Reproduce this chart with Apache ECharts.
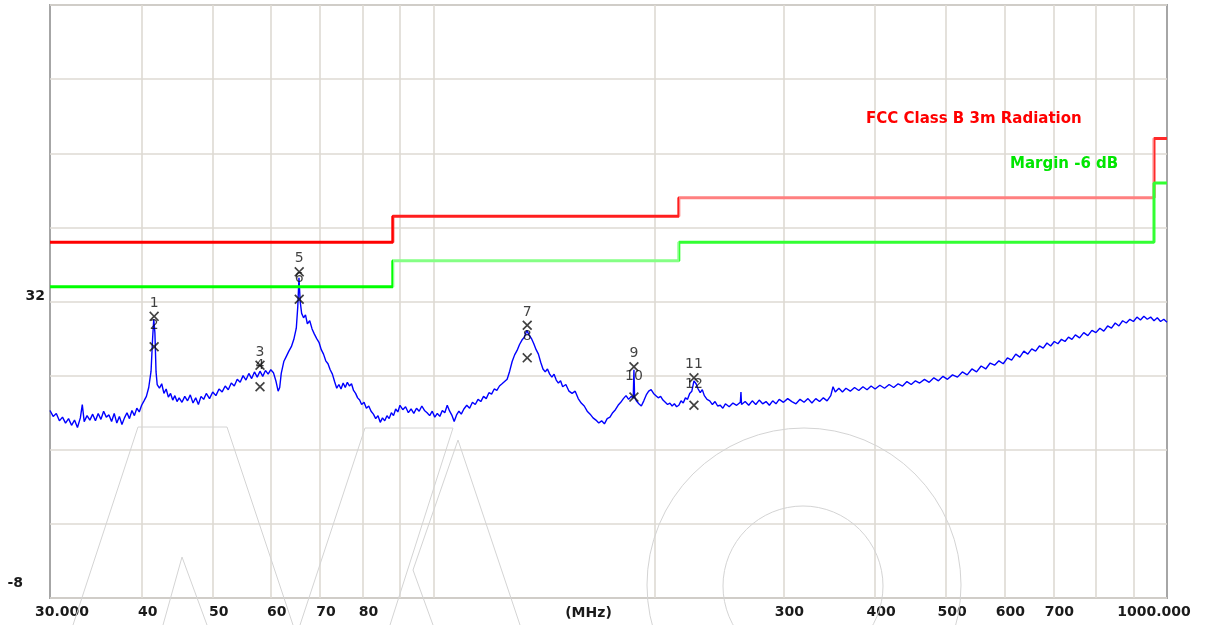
<!DOCTYPE html>
<html><head><meta charset="utf-8">
<script src="https://cdn.jsdelivr.net/npm/echarts@6.0.0/dist/echarts.min.js"></script>
<style>html,body{margin:0;padding:0;background:#fff}#c{width:1205px;height:625px}</style>
</head><body><div id="c"></div>
<script>
// ---- axes ----
const freqGridTicks = [40, 50, 60, 70, 80, 90, 100, 200, 300, 400, 500, 600, 700, 800, 900];
const freqTickLabels = [30, 40, 50, 60, 70, 80, 300, 400, 500, 600, 700, 1000];
const levelGridTicks = [-8, 2, 12, 22, 32, 42, 52, 62, 72];
const levelTickLabels = [-8, 32];

// ---- limit lines (FCC Class B 3m) ----
const limitEdges = [30, 88, 216, 960, 1000];
const limitLevels = [40, 43.5, 46, 54, 54];
const marginLevels = [34, 37.5, 40, 48, 48];

// ---- measured trace ----
const traceFreq = [30.0,30.3,30.6,30.9,31.2,31.5,31.8,32.1,32.4,32.7,33.0,33.2,33.4,33.7,34.0,34.3,34.6,34.9,35.2,35.5,35.8,36.1,36.4,36.7,37.0,37.3,37.6,37.9,38.2,38.5,38.8,39.1,39.4,39.7,40.0,40.3,40.6,40.9,41.2,41.4,41.55,41.7,41.85,42.0,42.3,42.6,42.9,43.2,43.5,43.8,44.1,44.4,44.7,45.0,45.4,45.8,46.2,46.6,47.0,47.4,47.8,48.2,48.6,49.0,49.5,50.0,50.5,51.0,51.5,52.0,52.5,53.0,53.5,54.0,54.5,55.0,55.5,56.0,56.5,57.0,57.5,58.0,58.5,59.0,59.5,60.0,60.5,61.0,61.4,61.7,62.0,62.5,63.0,63.5,64.0,64.5,65.0,65.3,65.55,65.8,66.1,66.5,66.9,67.3,67.8,68.3,68.8,69.3,69.8,70.3,70.8,71.3,71.8,72.3,72.8,73.3,73.8,74.3,74.8,75.3,75.8,76.3,76.8,77.3,77.8,78.3,78.8,79.3,79.8,80.4,81.0,81.6,82.2,82.8,83.4,84.0,84.6,85.2,85.8,86.4,87.0,87.6,88.2,88.8,89.4,90.0,90.8,91.6,92.4,93.2,94.0,94.8,95.6,96.4,97.2,98.0,98.8,99.6,100.4,101.2,102.0,102.8,103.6,104.4,105.2,106.0,106.7,107.5,108.3,109.1,110.0,111.0,112.0,113.0,114.0,115.0,116.0,117.0,118.0,119.0,120.0,121.0,122.0,123.0,124.0,125.0,126.0,127.0,128.0,129.0,130.0,131.0,132.0,133.0,134.0,135.0,136.0,137.0,138.0,139.0,140.0,141.0,142.0,143.0,144.0,145.0,146.0,147.0,148.0,149.0,150.0,151.5,153.0,154.5,156.0,157.5,159.0,160.5,162.0,163.5,165.0,166.5,168.0,169.5,171.0,172.5,174.0,175.5,177.0,178.5,180.0,181.5,183.0,184.5,186.0,187.2,187.6,188.0,189.0,190.5,192.0,193.5,195.0,196.5,198.0,199.5,201.0,202.5,204.0,205.5,207.0,208.5,210.0,211.5,213.0,214.5,216.0,217.5,219.0,220.5,222.0,223.5,225.0,226.5,228.0,229.5,231.0,232.5,234.0,236.0,238.0,240.0,242.0,244.0,246.0,248.0,250.0,253.0,256.0,259.0,262.0,262.5,263.0,266.0,269.0,272.0,275.0,278.0,281.0,284.0,287.0,290.0,293.0,296.0,300.0,304.0,308.0,312.0,316.0,320.0,324.0,328.0,332.0,336.0,340.0,344.0,348.0,350.5,353.0,357.0,361.0,365.0,370.0,375.0,380.0,385.0,390.0,395.0,400.0,406.0,412.0,418.0,424.0,430.0,436.0,442.0,448.0,454.0,460.0,467.0,474.0,481.0,488.0,495.0,502.0,510.0,518.0,526.0,534.0,542.0,550.0,558.0,566.0,574.0,582.0,590.0,598.0,606.0,614.0,622.0,630.0,638.0,646.0,654.0,662.0,670.0,678.0,686.0,694.0,702.0,710.0,718.0,726.0,734.0,742.0,750.0,760.0,770.0,780.0,790.0,800.0,810.0,820.0,830.0,840.0,850.0,860.0,870.0,880.0,890.0,900.0,910.0,920.0,930.0,940.0,950.0,960.0,970.0,980.0,990.0,1000.0];
const traceLevel = [17.3,16.5,16.9,15.9,16.4,15.6,16.2,15.3,16.0,15.0,16.3,18.1,15.8,16.6,16.0,16.8,15.9,16.9,16.1,17.2,16.4,16.7,15.8,16.9,15.6,16.5,15.4,16.3,17.0,16.2,17.3,16.6,17.6,17.1,18.0,18.6,19.2,20.4,22.6,27.0,29.6,27.8,22.5,20.8,20.3,20.9,19.6,20.2,19.1,19.6,18.7,19.3,18.5,19.0,18.4,19.2,18.6,19.4,18.3,19.0,18.1,19.2,18.8,19.6,18.9,19.8,19.3,20.2,19.8,20.6,20.1,21.0,20.6,21.5,21.1,22.0,21.4,22.3,21.6,22.5,21.8,22.6,21.9,22.7,22.2,22.8,22.4,21.2,19.9,20.4,22.3,23.9,24.6,25.3,25.9,26.9,28.4,31.3,35.2,32.0,30.4,29.8,30.2,29.0,29.4,28.3,27.6,27.0,26.5,25.5,24.9,24.0,23.6,22.8,22.2,21.2,20.3,20.8,20.2,21.0,20.4,21.1,20.6,20.9,20.0,19.6,19.0,18.7,18.1,18.4,17.6,17.9,17.2,16.8,16.2,16.6,15.7,16.3,15.9,16.6,16.2,17.0,16.6,17.5,17.1,18.0,17.4,17.8,17.0,17.5,16.9,17.6,17.2,17.9,17.3,17.0,16.6,17.2,16.4,16.9,16.5,17.3,17.0,18.0,17.2,16.6,15.8,16.7,17.2,16.8,17.5,18.0,17.6,18.4,18.1,18.8,18.5,19.2,18.9,19.7,19.5,20.2,20.0,20.6,20.9,21.2,21.5,22.6,23.9,24.8,25.4,26.2,26.8,27.2,28.1,27.5,27.0,26.3,25.5,24.9,23.8,22.9,22.5,22.9,22.2,21.8,22.2,21.4,21.0,21.3,20.5,20.8,19.9,19.6,19.9,18.9,18.3,17.9,17.2,16.8,16.3,16.0,15.6,15.9,15.5,16.2,16.4,17.0,17.4,18.0,18.4,18.9,19.3,18.8,19.2,19.0,22.8,19.1,18.6,18.2,17.9,18.6,19.4,19.9,20.1,19.6,19.3,19.0,19.2,18.7,18.4,18.1,18.3,17.9,18.2,17.8,18.0,18.6,18.3,19.0,18.8,19.6,19.9,21.3,20.9,20.2,19.7,20.1,19.3,18.8,18.6,18.1,18.5,17.9,18.0,17.6,18.2,17.8,18.3,18.0,18.4,19.8,18.1,18.5,18.0,18.6,18.1,18.7,18.2,18.5,18.0,18.6,18.2,18.8,18.4,18.9,18.5,18.2,18.8,18.4,18.9,18.3,18.9,18.5,19.0,18.6,19.3,20.5,19.8,20.3,19.8,20.3,19.9,20.4,20.0,20.5,20.1,20.6,20.2,20.7,20.3,20.8,20.4,20.9,20.6,21.2,20.8,21.3,21.0,21.5,21.1,21.7,21.3,21.9,21.5,22.1,21.8,22.5,22.1,22.9,22.5,23.3,22.9,23.7,23.4,24.0,23.6,24.4,24.1,24.9,24.5,25.3,24.9,25.6,25.3,26.0,25.7,26.4,26.0,26.6,26.3,26.9,26.6,27.2,26.9,27.5,27.1,27.8,27.4,28.1,27.8,28.4,28.0,28.7,28.4,29.1,28.7,29.4,29.1,29.6,29.3,29.9,29.5,30.0,29.6,29.9,29.4,29.8,29.3,29.6,29.2];

// ---- markers ----
const markerNames = ['1','2','3','4','5','6','7','8','9','10','11','12'];
const markerFreq = [41.6, 41.6, 58.0, 58.0, 65.6, 65.6, 134.2, 134.2, 187.6, 187.6, 226.5, 226.5];
const markerLevel = [30.0, 25.9, 23.4, 20.5, 36.0, 32.3, 28.8, 24.4, 23.2, 19.1, 21.7, 18.0];

const lg = Math.log10;
const FONT = '"DejaVu Sans", sans-serif';
const gridColor = '#dedad3';
const wm = '#d4d4d4';

const chart = echarts.init(document.getElementById('c'), null, {renderer: 'canvas'});

const xLabelFmt = function (v) {
  const f = Math.round(Math.pow(10, v));
  if (f === 30) return '{l|30.000}';
  if (f === 1000) return '{r|1000.000}';
  return '{n|' + f + '}';
};
const yLabelFmt = function (v) {
  return Math.round(v) === -8 ? '{b|-8}' : '{a|' + Math.round(v) + '}';
};

const stepData = (levels) => limitEdges.map((f, i) => [lg(f), levels[i]]);

const option = {
  backgroundColor: '#ffffff',
  animation: false,
  grid: {left: 50, top: 5, right: 38, bottom: 27, containLabel: false, outerBoundsMode: 'none',
         show: true, borderColor: '#a6a6a6', borderWidth: 2, backgroundColor: 'transparent'},
  xAxis: {
    type: 'value', min: lg(30), max: lg(1000),
    name: '(MHz)', nameLocation: 'middle', nameGap: 8, nameMoveOverlap: false,
    nameTextStyle: {fontFamily: FONT, fontWeight: 'bold', fontSize: 14, color: '#1a1a1a', padding: [0, 40, 0, 0], verticalAlign: 'top'},
    axisLine: {show: false},
    axisTick: {show: false, customValues: freqGridTicks.map(lg)},
    axisLabel: {
      customValues: freqTickLabels.map(lg), formatter: xLabelFmt, margin: 7,
      fontFamily: FONT, fontWeight: 'bold', fontSize: 14, color: '#1a1a1a',
      rich: {
        n: {fontFamily: FONT, fontWeight: 'bold', fontSize: 14, color: '#1a1a1a', padding: [0, 0, 0, 12]},
        l: {fontFamily: FONT, fontWeight: 'bold', fontSize: 14, color: '#1a1a1a', padding: [0, 0, 0, 24]},
        r: {fontFamily: FONT, fontWeight: 'bold', fontSize: 14, color: '#1a1a1a', padding: [0, 26, 0, 0]}
      }
    },
    splitLine: {show: true, lineStyle: {color: gridColor, width: 1.6}}
  },
  yAxis: {
    type: 'value', min: -8, max: 72,
    axisLine: {show: false},
    axisTick: {show: false, customValues: levelGridTicks},
    axisLabel: {
      customValues: levelTickLabels, formatter: yLabelFmt, margin: 5, verticalAlign: 'middle',
      fontFamily: FONT, fontWeight: 'bold', fontSize: 14, color: '#1a1a1a',
      rich: {
        a: {fontFamily: FONT, fontWeight: 'bold', fontSize: 14, color: '#1a1a1a', padding: [0, 0, 10, 0]},
        b: {fontFamily: FONT, fontWeight: 'bold', fontSize: 14, color: '#1a1a1a', padding: [0, 22, 30, 0]}
      }
    },
    splitLine: {show: true, lineStyle: {color: gridColor, width: 1.6}}
  },
  visualMap: [
    {type: 'piecewise', show: false, dimension: 0, seriesIndex: 1, pieces: [
      {lt: lg(88), color: '#ff0000'},
      {gte: lg(88), lt: lg(216), color: '#ff1e1e'},
      {gte: lg(216), lt: lg(959), color: '#ff8080'},
      {gte: lg(959), color: '#ff2a2a'}
    ]},
    {type: 'piecewise', show: false, dimension: 0, seriesIndex: 2, pieces: [
      {lt: lg(88), color: '#00ff00'},
      {gte: lg(88), lt: lg(216), color: '#85ff85'},
      {gte: lg(216), lt: lg(959), color: '#33ff33'},
      {gte: lg(959), color: '#33ff33'}
    ]}
  ],
  graphic: [
    {type: 'polyline', silent: true, z: 1, shape: {points: [[73, 625], [138, 427], [227, 427], [293, 625]]}, style: {stroke: wm, fill: 'none', lineWidth: 1}},
    {type: 'polyline', silent: true, z: 1, shape: {points: [[163, 625], [182, 557], [207, 625]]}, style: {stroke: wm, fill: 'none', lineWidth: 1}},
    {type: 'polyline', silent: true, z: 1, shape: {points: [[300, 625], [365, 428], [453, 428], [390, 625]]}, style: {stroke: wm, fill: 'none', lineWidth: 1}},
    {type: 'polyline', silent: true, z: 1, shape: {points: [[520, 625], [458, 440], [413, 570], [433, 625]]}, style: {stroke: wm, fill: 'none', lineWidth: 1}},
    {type: 'circle', silent: true, z: 1, shape: {cx: 804, cy: 585, r: 157}, style: {stroke: wm, fill: 'none', lineWidth: 1}},
    {type: 'circle', silent: true, z: 1, shape: {cx: 803, cy: 586, r: 80}, style: {stroke: wm, fill: 'none', lineWidth: 1}},
    {type: 'text', z: 10, x: 866, y: 119, style: {text: 'FCC Class B 3m Radiation', fill: '#ff0000', font: 'bold 15px ' + FONT, align: 'left', verticalAlign: 'middle'}},
    {type: 'text', z: 10, x: 1010, y: 164, style: {text: 'Margin -6 dB', fill: '#00e600', font: 'bold 15px ' + FONT, align: 'left', verticalAlign: 'middle'}}
  ],
  series: [
    {
      name: 'Trace', type: 'line', showSymbol: false, z: 3,
      data: traceFreq.map((f, i) => [lg(f), traceLevel[i]]),
      lineStyle: {color: '#0000ff', width: 1.4}
    },
    {
      name: 'FCC Class B 3m Radiation', type: 'line', step: 'end', showSymbol: false, z: 4,
      data: stepData(limitLevels), lineStyle: {width: 3}
    },
    {
      name: 'Margin -6 dB', type: 'line', step: 'end', showSymbol: false, z: 4,
      data: stepData(marginLevels), lineStyle: {width: 3}
    },
    {
      name: 'Markers', type: 'scatter', z: 5,
      symbol: 'path://M0,1.2L1.2,0L5,3.8L8.8,0L10,1.2L6.2,5L10,8.8L8.8,10L5,6.2L1.2,10L0,8.8L3.8,5Z',
      symbolSize: 10,
      itemStyle: {color: '#111111'},
      data: markerFreq.map((f, i) => ({
        value: [lg(f), markerLevel[i]],
        label: {distance: (i % 2 === 0) ? 1 : 9}
      })),
      label: {
        show: true, position: 'top',
        formatter: (p) => markerNames[p.dataIndex],
        fontFamily: FONT, fontSize: 14, color: '#111111'
      }
    }
  ]
};
chart.setOption(option);
</script></body></html>
